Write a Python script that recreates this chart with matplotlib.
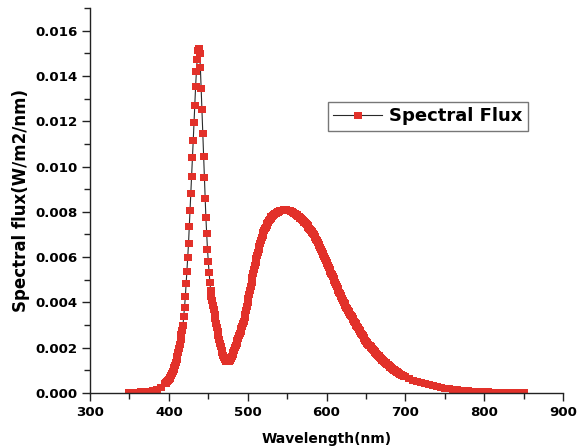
import numpy as np
import matplotlib
matplotlib.use("Agg")
import matplotlib.pyplot as plt
from matplotlib.ticker import MultipleLocator, FormatStrFormatter

# ---- measured spectrum (W/m2/nm) ----
# short-wavelength tail, 5 nm steps
wl_uv = [350, 355, 360, 365, 370, 375, 380, 385, 390]
flux_uv = [0.00005, 0.00005, 0.00006, 0.00007, 0.00008, 0.00010, 0.00013, 0.00019, 0.00028]

# blue LED emission, 1 nm steps from 395 to 474 nm
wl_blue_start = 395
flux_blue = [
    0.00042, 0.00045, 0.00049, 0.00053, 0.00057, 0.00061, 0.00066, 0.00072, 0.00079, 0.00087,
    0.00095, 0.00104, 0.00114, 0.00125, 0.00137, 0.00150, 0.00165, 0.00181, 0.00199, 0.00218,
    0.00238, 0.00259, 0.00280, 0.00302, 0.00340, 0.00382, 0.00428, 0.00484, 0.00540, 0.00600,
    0.00662, 0.00737, 0.00810, 0.00882, 0.00960, 0.01040, 0.01118, 0.01198, 0.01272, 0.01355,
    0.01420, 0.01475, 0.01515, 0.01525, 0.01500, 0.01440, 0.01345, 0.01255, 0.01148, 0.01048,
    0.00956, 0.00862, 0.00776, 0.00706, 0.00636, 0.00582, 0.00535, 0.00492, 0.00455, 0.00430,
    0.00410, 0.00390, 0.00370, 0.00350, 0.00330, 0.00310, 0.00290, 0.00272, 0.00254, 0.00237,
    0.00221, 0.00206, 0.00192, 0.00180, 0.00169, 0.00160, 0.00152, 0.00147, 0.00143, 0.00141,
]

# phosphor emission, 1 nm steps from 475 to 700 nm
wl_phosphor_start = 475
flux_phosphor = [
    0.00140, 0.00141, 0.00144, 0.00149, 0.00156, 0.00164, 0.00173, 0.00182, 0.00192, 0.00202,
    0.00212, 0.00222, 0.00232, 0.00243, 0.00254, 0.00265, 0.00276, 0.00287, 0.00298, 0.00309,
    0.00320, 0.00335, 0.00350, 0.00366, 0.00383, 0.00400, 0.00418, 0.00436, 0.00454, 0.00473,
    0.00492, 0.00511, 0.00530, 0.00547, 0.00564, 0.00580, 0.00595, 0.00609, 0.00623, 0.00637,
    0.00650, 0.00663, 0.00675, 0.00687, 0.00699, 0.00710, 0.00719, 0.00727, 0.00735, 0.00743,
    0.00750, 0.00756, 0.00762, 0.00768, 0.00774, 0.00780, 0.00783, 0.00786, 0.00789, 0.00792,
    0.00795, 0.00797, 0.00799, 0.00801, 0.00803, 0.00805, 0.00806, 0.00807, 0.00808, 0.00809,
    0.00810, 0.00811, 0.00811, 0.00812, 0.00811, 0.00810, 0.00809, 0.00808, 0.00807, 0.00806,
    0.00805, 0.00803, 0.00801, 0.00799, 0.00797, 0.00795, 0.00792, 0.00789, 0.00786, 0.00783,
    0.00780, 0.00777, 0.00774, 0.00771, 0.00768, 0.00765, 0.00761, 0.00757, 0.00753, 0.00749,
    0.00745, 0.00740, 0.00735, 0.00730, 0.00725, 0.00720, 0.00715, 0.00710, 0.00705, 0.00700,
    0.00695, 0.00688, 0.00681, 0.00674, 0.00667, 0.00660, 0.00652, 0.00644, 0.00636, 0.00628,
    0.00620, 0.00612, 0.00604, 0.00596, 0.00588, 0.00580, 0.00572, 0.00564, 0.00556, 0.00548,
    0.00540, 0.00532, 0.00524, 0.00516, 0.00508, 0.00500, 0.00491, 0.00482, 0.00473, 0.00464,
    0.00455, 0.00448, 0.00441, 0.00434, 0.00427, 0.00420, 0.00412, 0.00404, 0.00396, 0.00388,
    0.00380, 0.00374, 0.00368, 0.00362, 0.00356, 0.00350, 0.00344, 0.00338, 0.00332, 0.00326,
    0.00320, 0.00314, 0.00308, 0.00302, 0.00296, 0.00290, 0.00284, 0.00278, 0.00272, 0.00266,
    0.00260, 0.00254, 0.00248, 0.00242, 0.00236, 0.00230, 0.00226, 0.00222, 0.00218, 0.00214,
    0.00210, 0.00206, 0.00202, 0.00198, 0.00194, 0.00190, 0.00186, 0.00182, 0.00178, 0.00174,
    0.00170, 0.00166, 0.00162, 0.00158, 0.00154, 0.00150, 0.00147, 0.00144, 0.00141, 0.00138,
    0.00135, 0.00132, 0.00129, 0.00126, 0.00123, 0.00120, 0.00117, 0.00114, 0.00111, 0.00108,
    0.00105, 0.00103, 0.00100, 0.00098, 0.00095, 0.00093, 0.00091, 0.00089, 0.00086, 0.00084,
    0.00082, 0.00080, 0.00078, 0.00077, 0.00075, 0.00073,
]

# long-wavelength tail, 5 nm steps
wl_ir = [705, 710, 715, 720, 725, 730, 735, 740, 745, 750,
         755, 760, 765, 770, 775, 780, 785, 790, 795, 800,
         805, 810, 815, 820, 825, 830, 835, 840, 845, 850]
flux_ir = [0.00066, 0.00059, 0.00053, 0.00047, 0.00042, 0.00038, 0.00034, 0.00030, 0.00027, 0.00024,
           0.00021, 0.00019, 0.00017, 0.00015, 0.00013, 0.00012, 0.00011, 0.00010, 0.00009, 0.00008,
           0.00007, 0.00006, 0.00006, 0.00005, 0.00005, 0.00004, 0.00004, 0.00004, 0.00003, 0.00003]

series_label = "Spectral Flux"
x_label = "Wavelength(nm)"
y_label = "Spectral flux(W/m2/nm)"

wl_blue = wl_blue_start + np.arange(len(flux_blue))
wl_phosphor = wl_phosphor_start + np.arange(len(flux_phosphor))
wavelength = np.concatenate([wl_uv, wl_blue, wl_phosphor, wl_ir])
flux = np.concatenate([flux_uv, flux_blue, flux_phosphor, flux_ir])

plt.rcParams["font.family"] = ["DejaVu Sans"]
plt.rcParams["font.weight"] = "bold"

fig = plt.figure(figsize=(5.82, 4.47), dpi=100)
ax = fig.add_axes([0.1546, 0.1208, 0.8128, 0.8612])

# slightly wide rectangle marker
rect = [(-1, -0.9), (1, -0.9), (1, 0.9), (-1, 0.9), (-1, -0.9)]
ax.plot(wavelength, flux, color="#2a2a2a", lw=0.8,
        marker=rect, markersize=5.6, markerfacecolor="#e2312a",
        markeredgewidth=0, label=series_label)

ax.set_xlim(300, 900)
ax.set_ylim(0, 0.017)
ax.xaxis.set_major_locator(MultipleLocator(100))
ax.xaxis.set_minor_locator(MultipleLocator(50))
ax.yaxis.set_major_locator(MultipleLocator(0.002))
ax.yaxis.set_minor_locator(MultipleLocator(0.001))
ax.yaxis.set_major_formatter(FormatStrFormatter("%.3f"))

for side in ("top", "right"):
    ax.spines[side].set_visible(False)
for side in ("left", "bottom"):
    ax.spines[side].set_color("#222222")
    ax.spines[side].set_linewidth(1.0)

ax.tick_params(which="major", direction="out", length=6, width=1.0,
               color="#222222", labelsize=9.6, pad=3)
ax.tick_params(which="minor", direction="out", length=4, width=1.0, color="#222222")
for lbl in ax.get_xticklabels() + ax.get_yticklabels():
    lbl.set_fontweight("bold")

ax.set_xlabel(x_label, fontsize=10, fontweight="bold", labelpad=10)
ax.set_ylabel(y_label, fontsize=12, fontweight="bold", labelpad=4)

leg = ax.legend(loc="upper left", bbox_to_anchor=(0.503, 0.756), borderaxespad=0,
                numpoints=1, handlelength=2.7, handletextpad=0.4, borderpad=0.3,
                fancybox=False, framealpha=1, edgecolor="#777777",
                prop={"size": 13, "weight": "bold"})
leg.get_frame().set_linewidth(1.0)

fig.savefig("out.png", dpi=100)
